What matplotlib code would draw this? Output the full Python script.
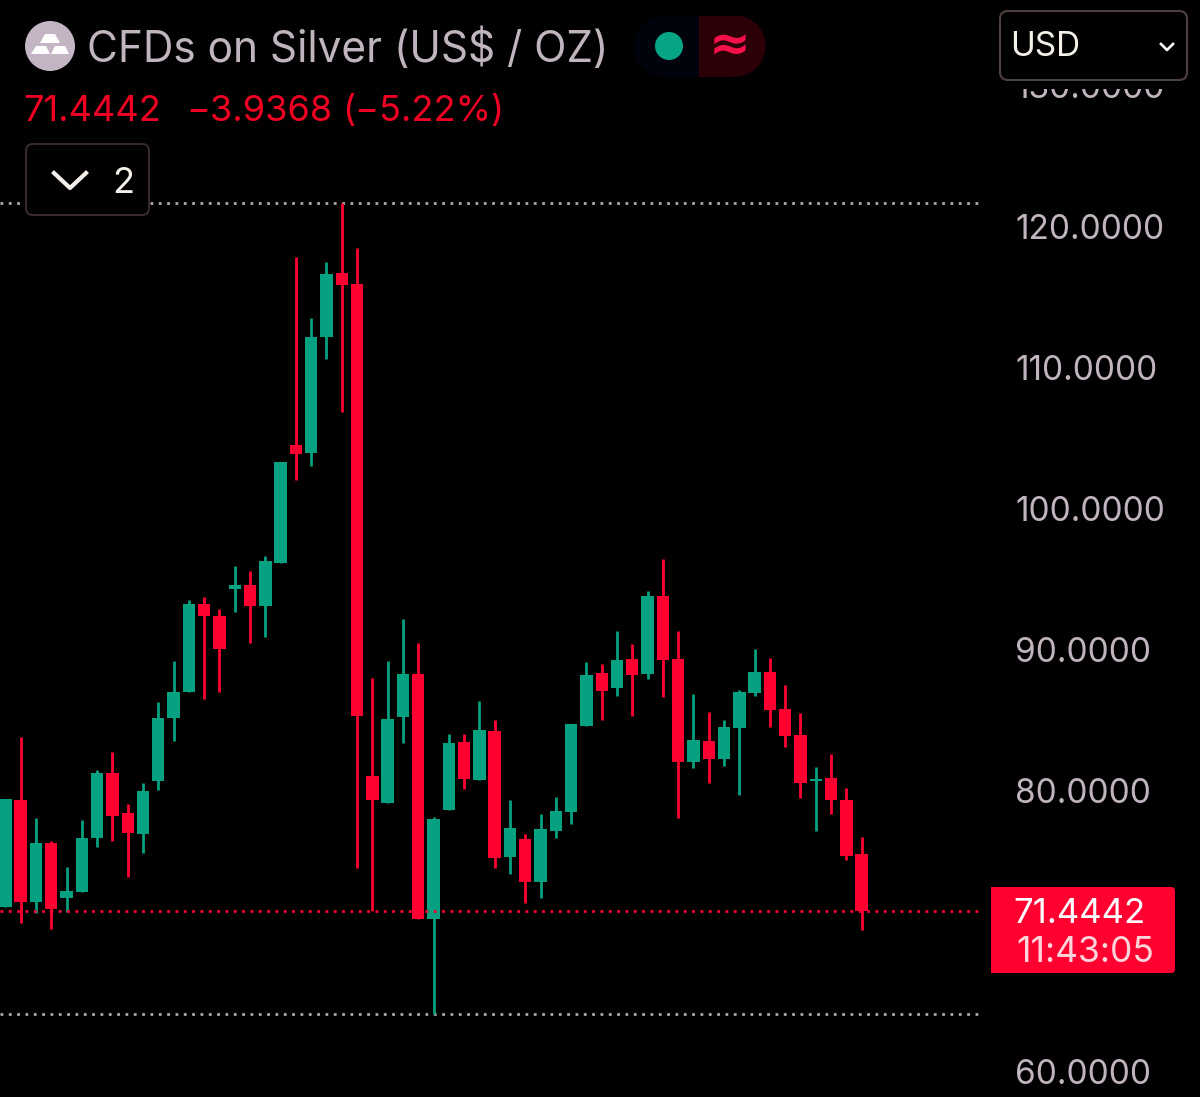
import matplotlib
matplotlib.use('Agg')
import matplotlib.pyplot as plt
from matplotlib.patches import Circle, FancyBboxPatch, Polygon, Rectangle, Wedge
import numpy as np

# candles, oldest first
opens = [71.72, 79.27, 72.08, 76.22, 72.34, 72.74, 76.57, 81.23, 78.39, 76.88,
         80.64, 85.08, 86.95, 93.19, 92.36, 94.26, 94.56, 93.05, 96.08, 104.47,
         103.88, 112.11, 116.69, 115.91, 80.99, 79.08, 85.20, 88.21, 70.87, 78.58,
         83.40, 80.73, 84.18, 75.23, 76.55, 73.47, 77.09, 78.42, 84.54, 88.28,
         87.26, 89.27, 88.23, 93.76, 89.27, 81.96, 83.47, 82.20, 84.42, 86.90,
         88.35, 85.72, 83.92, 80.66, 80.87, 79.31, 75.44]
highs = [79.34, 83.74, 78.04, 76.40, 74.56, 77.87, 81.42, 82.72, 79.03, 80.47,
         86.22, 89.15, 93.47, 93.67, 92.82, 95.89, 95.55, 96.60, 103.24, 117.78,
         113.45, 117.43, 121.65, 118.46, 87.94, 89.17, 92.13, 90.40, 78.11, 83.97,
         83.97, 86.29, 84.96, 79.29, 76.88, 78.30, 79.50, 84.66, 89.06, 88.91,
         91.30, 90.33, 94.13, 96.38, 91.30, 86.81, 85.55, 84.96, 87.09, 89.98,
         89.38, 87.43, 85.44, 81.61, 82.53, 80.16, 76.67]
lows = [71.72, 70.59, 71.26, 70.12, 71.33, 72.74, 75.98, 76.40, 73.85, 75.51,
        79.98, 83.50, 86.95, 86.45, 86.92, 92.65, 90.40, 90.87, 96.08, 101.99,
        103.00, 110.59, 106.81, 74.45, 71.44, 79.08, 83.31, 70.87, 64.11, 78.58,
        80.05, 80.73, 74.45, 74.06, 72.01, 72.36, 76.57, 77.57, 84.54, 84.98,
        86.67, 85.27, 87.85, 86.60, 78.01, 81.58, 80.50, 81.70, 79.64, 86.67,
        84.47, 83.07, 79.45, 77.09, 78.28, 75.06, 70.05]
closes = [79.34, 72.08, 76.22, 71.54, 72.86, 76.57, 81.18, 78.16, 76.93, 79.93,
          85.13, 86.92, 93.17, 92.32, 89.98, 94.56, 93.05, 96.22, 103.24, 103.85,
          112.15, 116.62, 115.79, 85.27, 79.27, 85.04, 88.21, 70.87, 77.92, 83.33,
          80.78, 84.25, 75.18, 77.33, 73.47, 77.21, 78.53, 84.66, 88.13, 87.04,
          89.20, 88.16, 93.76, 89.22, 81.99, 83.52, 82.20, 84.47, 86.97, 88.35,
          85.65, 83.83, 80.52, 80.80, 79.27, 75.32, 71.44]

price_ticks = [60, 80, 90, 100, 110, 120, 130]
last_price = 71.4442
session_high = 121.65
session_low = 64.11

title = 'CFDs on Silver (US$ / OZ)'
last_text = '71.4442'
change_text = '\u22123.9368'
pct_text = '(\u22125.22%)'
countdown = '11:43:05'

RED = '#ff0030'
GREEN = '#05a180'
GREY = '#c0b4bf'
W, H = 1200, 1097
PLOT_R = 983        # right edge of the candle pane, px
STEP = 15.29        # px per candle
X0 = 5.4            # px of first candle
PX_PER_USD = 14.1
Y120 = 226          # px of the 120 tick

plt.rcParams['font.family'] = ['Inter', 'DejaVu Sans']

fig = plt.figure(figsize=(W / 100, H / 100), dpi=100, facecolor='black')

ax = fig.add_axes([0, 0, PLOT_R / W, 1], facecolor='black')
ax.set_xlim(-X0 / STEP, (PLOT_R - X0) / STEP)
ax.set_ylim(120 - (H - Y120) / PX_PER_USD, 120 + Y120 / PX_PER_USD)

idx = np.arange(len(opens))
o, c = np.array(opens), np.array(closes)
colors = [RED if c[i] < o[i] else GREEN for i in idx]
ax.vlines(idx, lows, highs, colors=colors, linewidth=2.0, zorder=3)
ax.bar(idx, np.abs(c - o), bottom=np.minimum(o, c), width=12.4 / STEP,
       color=colors, linewidth=0, zorder=4)

ax.axhline(session_high, color='#b0a8a8', lw=2, ls=(0, (1, 2.0)), zorder=2)
ax.axhline(session_low, color='#b0a8a8', lw=2, ls=(0, (1, 2.0)), zorder=2)
ax.axhline(last_price, color=RED, lw=2, ls=(0, (1, 2.0)), zorder=5)

for s in ax.spines.values():
    s.set_visible(False)
ax.set_xticks([])
ax.yaxis.tick_right()
ax.set_yticks(price_ticks)
ax.set_yticklabels(['%.4f' % p for p in price_ticks], fontsize=24, color=GREY)
ax.tick_params(axis='y', length=0, pad=23)

# header and badges live on a pixel overlay
ov = fig.add_axes([0, 0, 1, 1])
ov.set_xlim(0, W)
ov.set_ylim(H, 0)
ov.axis('off')
ov.patch.set_visible(False)

# hides the top tick label behind the header
ov.add_patch(Rectangle((985, 0), W - 985, 89, fc='black', ec='none'))

ov.add_patch(Circle((50, 46), 25, fc='#c3b5c3', ec='none'))
ov.add_patch(Polygon([(45, 34), (55, 34), (60, 43), (40, 43)], fc='white', ec='none'))
ov.add_patch(Polygon([(36, 46), (46, 46), (50, 54), (31, 54)], fc='white', ec='none'))
ov.add_patch(Polygon([(55, 46), (65, 46), (69, 54), (51, 54)], fc='white', ec='none'))
ov.text(87, 62, title, fontsize=30.5, color=GREY, va='baseline', ha='left')

ov.text(23, 121, last_text, fontsize=26, color='#f00022', va='baseline')
ov.text(186, 121, change_text, fontsize=26, color='#f00022', va='baseline')
ov.text(342, 121, pct_text, fontsize=26, color='#f00022', va='baseline')

# collapsed indicators button
ov.add_patch(FancyBboxPatch((26, 144), 123, 71, boxstyle='round,pad=0,rounding_size=7',
                            fc='black', ec='#3a2c2c', lw=1.4, zorder=6))
ov.plot([54, 70, 86], [173, 188, 173], color='#f5f0ea', lw=3, zorder=7)
ov.text(112, 193, '2', fontsize=26, color='#f5f0ea', va='baseline', zorder=7)

# market status pill
ov.add_patch(Wedge((664, 46), 30.5, 90, 270, fc='#01030c', ec='none'))
ov.add_patch(Rectangle((664, 15.5), 35, 61, fc='#01030c', ec='none'))
ov.add_patch(Rectangle((699, 15.5), 36, 61, fc='#2c0007', ec='none'))
ov.add_patch(Wedge((735, 46), 30.5, -90, 90, fc='#2c0007', ec='none'))
ov.add_patch(Circle((669, 46), 14, fc='#05a585', ec='none'))
ov.text(730, 46, '\u2248', fontsize=36, color='#f5104a', fontweight='bold',
        ha='center', va='center', family=['DejaVu Sans'])

# currency selector
ov.add_patch(FancyBboxPatch((1000, 11), 187, 69, boxstyle='round,pad=0,rounding_size=8',
                            fc='black', ec='#4e403e', lw=1.5))
ov.text(1010, 56, 'USD', fontsize=24, color='#f5f0ea', va='baseline')
ov.plot([1161, 1167, 1173], [44, 50, 44], color='white', lw=1.9)

# last price tag
ov.add_patch(FancyBboxPatch((991, 887), 184, 86, boxstyle='round,pad=0,rounding_size=4',
                            fc=RED, ec='none', zorder=6))
ov.add_patch(Rectangle((991, 887), 10, 86, fc=RED, ec='none', zorder=6))
ov.text(1013, 923, last_text, fontsize=25, color='white', va='baseline', zorder=7)
ov.text(1016, 962, countdown, fontsize=25.5, color='#ffd3da', va='baseline', zorder=7)

fig.savefig('out.png', dpi=100, facecolor='black')
